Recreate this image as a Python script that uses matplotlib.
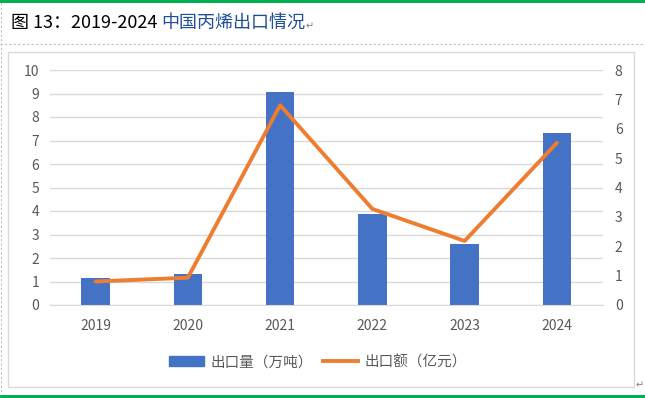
import matplotlib.pyplot as plt
from matplotlib.patches import Rectangle, Patch
from matplotlib.lines import Line2D

plt.rcParams['font.family'] = ['Noto Sans CJK SC', 'DejaVu Sans']

years = ["2019", "2020", "2021", "2022", "2023", "2024"]
export_volume = [1.15, 1.33, 9.06, 3.87, 2.6, 7.32]      # 出口量（万吨）, left axis
export_value = [0.8, 0.93, 6.8, 3.27, 2.18, 5.52]        # 出口额（亿元）, right axis
left_ticks = list(range(0, 11))
right_ticks = list(range(0, 9))

bar_color = "#4472C4"
line_color = "#ED7D31"
grid_color = "#D9D9D9"
text_color = "#595959"

W, H = 645, 398
fig = plt.figure(figsize=(W / 100, H / 100), dpi=100)


def fx(px):
    return px / W


def fy(py):
    return 1 - py / H


# page decorations: green rules, dotted frame, chart box
fig.add_artist(Rectangle((0, fy(3)), 1, 3 / H, transform=fig.transFigure, color="#00B050", lw=0))
fig.add_artist(Rectangle((0, 0), 1, 3 / H, transform=fig.transFigure, color="#00B050", lw=0))
fig.add_artist(Line2D([0, 1], [fy(44), fy(44)], transform=fig.transFigure, color="#BFBFBF", lw=0.8, ls=(0, (2, 2))))
fig.add_artist(Line2D([fx(1), fx(1)], [fy(3), fy(395)], transform=fig.transFigure, color="#BFBFBF", lw=0.8, ls=(0, (2, 2))))
fig.add_artist(Rectangle((fx(8), fy(387)), fx(634) - fx(8), fy(52) - fy(387),
                         transform=fig.transFigure, fill=False, ec=grid_color, lw=1))

# title
t1 = fig.text(fx(11), fy(23), "图 13：2019-2024 ", fontsize=13, color="black", va="center", ha="left")
fig.canvas.draw()
bb = t1.get_window_extent()
t2 = fig.text(bb.x1 / W, fy(23), "中国丙烯出口情况", fontsize=13, color="#1F4E9A", va="center", ha="left")
fig.canvas.draw()
bb2 = t2.get_window_extent()
fig.text(bb2.x1 / W, fy(26), "↵", fontsize=7, color="#808080", va="center", ha="left")
fig.text(fx(636), fy(385), "↵", fontsize=7, color="#808080", va="center", ha="left")

ax = fig.add_axes([fx(49.5), fy(305), fx(603) - fx(49.5), fy(70) - fy(305)])
x = list(range(len(years)))
ax.bar(x, export_volume, width=0.31, color=bar_color, zorder=2)
ax.set_ylim(0, 10)
ax.set_xlim(-0.5, len(years) - 0.5)
ax.set_yticks(left_ticks)
ax.set_xticks(x)
ax.set_xticklabels(years)
ax.yaxis.grid(True, color=grid_color, lw=1)
ax.set_axisbelow(True)
for s in ["top", "right", "left"]:
    ax.spines[s].set_visible(False)
ax.spines["bottom"].set_color(grid_color)
ax.tick_params(axis="both", length=0, labelsize=10, labelcolor=text_color)
ax.tick_params(axis="y", pad=7.5)
ax.tick_params(axis="x", pad=10)

ax2 = ax.twinx()
ax2.plot(x, export_value, color=line_color, lw=2.8, solid_capstyle="round", zorder=3)
ax2.set_ylim(0, 8)
ax2.set_yticks(right_ticks)
for s in ax2.spines.values():
    s.set_visible(False)
ax2.tick_params(axis="y", length=0, labelsize=10, labelcolor=text_color, pad=8.5)

handles = [Patch(color=bar_color), Line2D([], [], color=line_color, lw=2.8)]
fig.legend(handles, ["出口量（万吨）", "出口额（亿元）"], loc="center", bbox_to_anchor=(fx(318), fy(362)),
           ncol=2, frameon=False, fontsize=10.5, labelcolor=text_color, handlelength=2.4,
           handleheight=0.65, handletextpad=0.45, columnspacing=0.7)

fig.savefig("out.png", dpi=100)
